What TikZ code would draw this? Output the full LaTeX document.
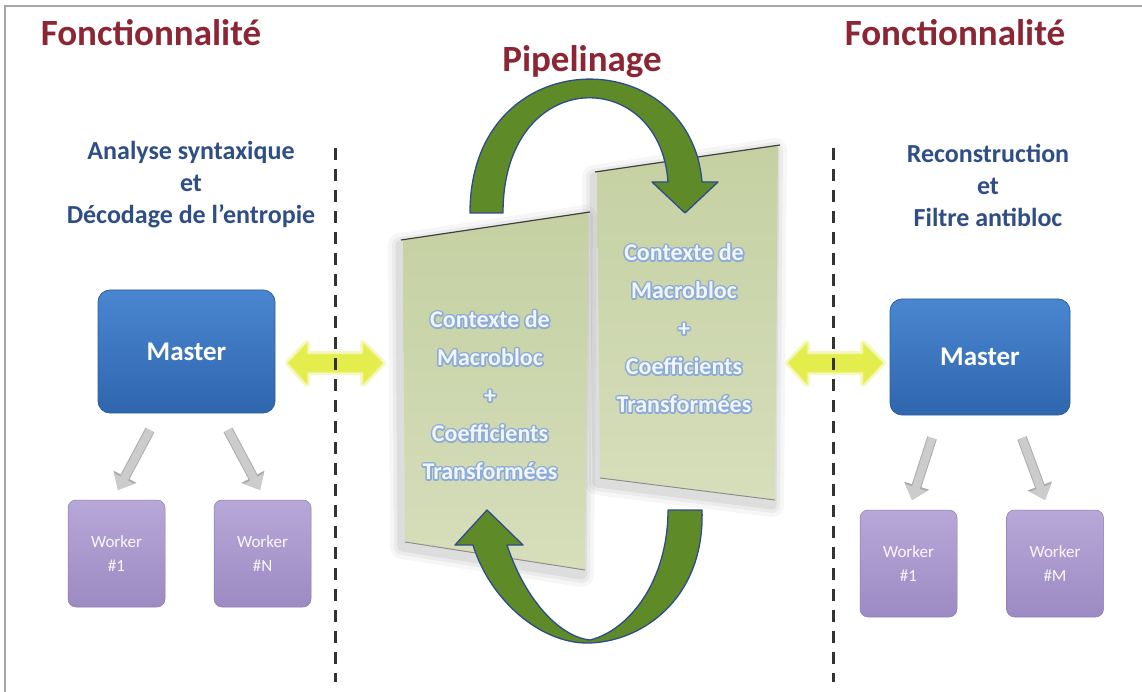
\documentclass[tikz,border=0pt]{standalone}
\usepackage{fontspec}
\setmainfont{Carlito}
\usetikzlibrary{arrows.meta}
\definecolor{titlered}{HTML}{8C2634}
\definecolor{subblue}{HTML}{2F4E86}
\definecolor{mtop}{HTML}{4A86D0}
\definecolor{mbot}{HTML}{2F66AE}
\definecolor{mdraw}{HTML}{2C5E9E}
\definecolor{wtop}{HTML}{B7A8D8}
\definecolor{wbot}{HTML}{9C8AC2}
\definecolor{ptop}{HTML}{C5D0A2}
\definecolor{pbot}{HTML}{D6DEBB}
\definecolor{gfill}{HTML}{5E8A27}
\definecolor{gdraw}{HTML}{2E4C8C}
\definecolor{yfill}{HTML}{E3EE4C}
\definecolor{pwhite}{HTML}{F2F6FC}
\newcommand{\outlon}{\special{pdf:literal 1 Tr 3.2 w 1 J 1 j 0.55 0.67 0.84 RG}}
\newcommand{\outloff}{\special{pdf:literal 0 Tr}}
\newcommand{\glow}[1]{\makebox[0pt][l]{\outlon#1\outloff}#1}
\tikzset{
  title/.style={text=titlered, font=\bfseries\fontsize{37}{40}\selectfont},
  subtitle/.style={text=subblue, font=\bfseries\fontsize{26}{32}\selectfont, align=center},
  master/.style={rounded corners=12pt, top color=mtop, bottom color=mbot, draw=mdraw, line width=0.8pt,
     text=white, font=\bfseries\fontsize{27}{30}\selectfont, inner sep=0pt},
  worker/.style={rounded corners=8pt, top color=wtop, bottom color=wbot, draw=wbot!90!black, line width=0.5pt,
     text=white!92!wtop, font=\fontsize{17}{24}\selectfont, align=center, inner sep=0pt,
     minimum width=97pt, minimum height=107pt},
  sep/.style={line width=3pt, black!80, dash pattern=on 12pt off 9pt},
  greyarrow/.style={line width=8pt, gray!40, -{Triangle[length=13pt,width=22pt]}},
  greyedge/.style={line width=10pt, gray!65, -{Triangle[length=15pt,width=25pt]}},
  ptxt/.style={font=\bfseries\fontsize{24}{38}\selectfont, align=center, inner sep=0pt, text=pwhite},
  greenarrow/.style={fill=gfill, draw=gdraw, line width=1.3pt, line join=round},
  yarrow/.style={fill=yfill, draw=yfill!80!white, line width=1pt, line join=round},
}
\begin{document}
\begin{tikzpicture}[x=1pt,y=-1pt]
\useasboundingbox (0,0) rectangle (1142,692);
\fill[white] (0,0) rectangle (1142,692);
% frame
\draw[gray!70, line width=1.5pt] (5,692) -- (5,6) -- (1142,6);

% titles
\node[title] (t1) at (151,33) {Fonctionnalité};
\node[title] (t2) at (582,62) {Pipelinage};
\node[title] (t3) at (955,33) {Fonctionnalité};

\node[subtitle] (s1) at (191,185) {Analyse syntaxique\\et\\Décodage de l’entropie};
\node[subtitle] (s2) at (988,185) {Reconstruction\\et\\Filtre antibloc};

% panels shadows
\foreach \w/\o in {24/0.035,16/0.045,9/0.06} {
  \draw[black, line width=\w pt, opacity=\o, line join=round, shift={(-3,5)}]
    (403,240) -- (588,212) -- (585,570) -- (405,542) -- cycle;
  \draw[black, line width=\w pt, opacity=\o, line join=round, shift={(-3,5)}]
    (597,172) -- (778,145) -- (775,500) -- (600,478) -- cycle;
}
% panels
\shade[top color=ptop, bottom color=pbot] (403,240) -- (588,212) -- (585,570) -- (405,542) -- cycle;
\shade[top color=ptop, bottom color=pbot] (597,172) -- (778,145) -- (775,500) -- (600,478) -- cycle;
\draw[black!75, line width=1.2pt] (401,240) -- (590,212);
\draw[black!75, line width=1.2pt] (595,172) -- (780,145);
\draw[black!45, line width=1pt] (405,542) -- (585,570);
\draw[black!45, line width=1pt] (600,478) -- (775,500);

\node[ptxt] (p1) at (490,395) {\glow{Contexte de}\\\glow{Macrobloc}\\\glow{+}\\\glow{Coefficients}\\\glow{Transformées}};
\node[ptxt] (p2) at (684,328) {\glow{Contexte de}\\\glow{Macrobloc}\\\glow{+}\\\glow{Coefficients}\\\glow{Transformées}};

% green arrows
\draw[greenarrow] (470,213) .. controls (470,40) and (690,40) .. (702,182)
   -- (718,182) -- (685,213) -- (652,182) -- (668,182)
   .. controls (660,65) and (503,65) .. (503,213) -- cycle;
\draw[greenarrow] (702,510) .. controls (705,600) and (640,643) .. (587,643)
   .. controls (540,643) and (490,600) .. (473,545)
   -- (455,545) -- (487,510) -- (523,545) -- (507,545)
   .. controls (525,600) and (560,637) .. (590,640)
   .. controls (630,630) and (668,580) .. (668,510) -- cycle;

% yellow double arrows
\foreach \a/\b in {288/383, 788/883} {
  \draw[yfill, opacity=0.35, line width=6pt, line join=round]
    (\a,363) -- (\a+19,343) -- (\a+19,354) -- (\b-20,354) -- (\b-20,343) -- (\b,363)
    -- (\b-20,384) -- (\b-20,372) -- (\a+19,372) -- (\a+19,384) -- cycle;
  \draw[yarrow]
    (\a,363) -- (\a+19,343) -- (\a+19,354) -- (\b-20,354) -- (\b-20,343) -- (\b,363)
    -- (\b-20,384) -- (\b-20,372) -- (\a+19,372) -- (\a+19,384) -- cycle;
}

% separators
\coordinate (d1a) at (335,148); \coordinate (d1b) at (335,682);
\coordinate (d2a) at (833,148); \coordinate (d2b) at (833,682);
\draw[sep] (d1a) -- (d1b);
\draw[sep] (d2a) -- (d2b);

% masters
\node[master, minimum width=177pt, minimum height=123pt] (m1) at (186.5,351.5) {Master};
\node[master, minimum width=180pt, minimum height=116pt] (m2) at (980,357) {Master};

% workers
\node[worker] (w1) at (116.5,553.5) {Worker\\\#1};
\node[worker] (w2) at (262.5,553.5) {Worker\\\#N};
\node[worker] (w3) at (908.5,563.5) {Worker\\\#1};
\node[worker] (w4) at (1055,563.5) {Worker\\\#M};

% grey arrows master -> workers
\coordinate (a1s) at (150,430); \coordinate (a1e) at (118,490);
\coordinate (a2s) at (228,430); \coordinate (a2e) at (260,490);
\coordinate (a3s) at (932,438); \coordinate (a3e) at (912,500);
\coordinate (a4s) at (1022,438); \coordinate (a4e) at (1045,500);
\foreach \s/\e in {a1s/a1e,a2s/a2e,a3s/a3e,a4s/a4e} {
  \draw[greyedge] (\s) -- (\e);
  \draw[greyarrow] (\s) -- (\e);
}
\end{tikzpicture}
\end{document}
